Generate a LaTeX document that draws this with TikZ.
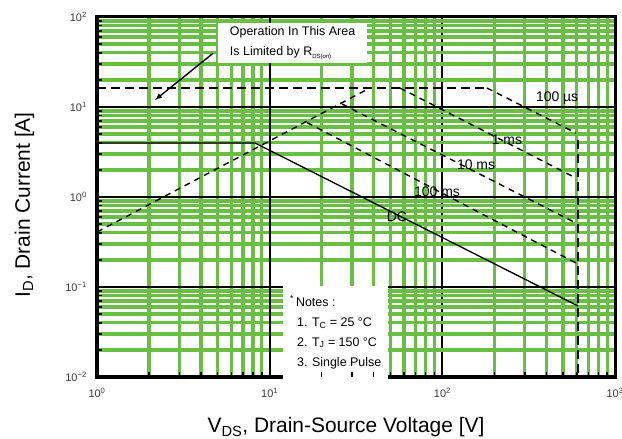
\documentclass[tikz,border=0pt]{standalone}
\usepackage{fontspec}
\setmainfont{Liberation Sans}
\usetikzlibrary{arrows}
\definecolor{gridgreen}{RGB}{106, 189, 69}
\definecolor{labelgray}{RGB}{60, 60, 60}

\begin{document}
\begin{tikzpicture}[x=172.7bp, y=90bp,
    minorgrid/.style={gridgreen, line width=3.3bp},
    decadegrid/.style={black, line width=2bp},
    frameline/.style={black, line width=3bp},
    frametick/.style={black, line width=1.5bp},
    pulseline/.style={black, line width=1.4bp, dash pattern=on 6bp off 5bp},
    limitline/.style={black, line width=2.6bp, dash pattern=on 9bp off 5bp},
    dcline/.style={black, line width=1.3bp},
    whitebox/.style={fill=white, inner sep=0pt, align=left},
    notetext/.style={font=\fontsize{12.5}{20}\selectfont},
    curvelabel/.style={font=\fontsize{14}{16}\selectfont, inner sep=0pt},
    ticklabel/.style={font=\fontsize{11}{13}\selectfont, text=labelgray, inner sep=1bp},
    axislabel/.style={font=\fontsize{21}{25}\selectfont, inner sep=0pt}]
    \useasboundingbox (-97bp,-62bp) rectangle (525bp,377bp);
    % minor grid, vertical
    \foreach \d in {0,1,2}
        \foreach \k in {2,...,9}
            \draw[minorgrid] ({\d+log10(\k)},0) -- ({\d+log10(\k)},4);
    \draw[decadegrid] (2,0) -- (2,4);
    % minor grid, horizontal
    \foreach \d in {0,1,2,3}
        \foreach \k in {2,...,9}
            \draw[minorgrid] (0,{\d+log10(\k)}) -- (3,{\d+log10(\k)});
    \foreach \d in {1,2,3}
        \draw[decadegrid] (0,\d) -- (3,\d);
    \draw[decadegrid] (1,0) -- (1,4);
    \draw[frameline] (0,0) rectangle (3,4);

    % boxes
    \node[whitebox, notetext, minimum width=149bp, minimum height=40bp, anchor=north west] (limitbox) at (0.700,3.933)
        {Operation In This Area\\Is Limited by R\raisebox{-3bp}{\fontsize{6}{7}\selectfont DS(on)}};
    \node[whitebox, notetext, minimum width=105bp, minimum height=93bp, anchor=south west] (notesbox) at (1.077,-0.022)
        {\textsuperscript{*}\,Notes :\\
         \hspace*{7bp}1. T\textsubscript{C} = 25 °C\\
         \hspace*{7bp}2. T\textsubscript{J} = 150 °C\\
         \hspace*{7bp}3. Single Pulse};

    % ticks
    \foreach \d in {0,1,2,3}
        \foreach \k in {2,...,9}
            \draw[frametick] (0,{\d+log10(\k)}) -- ++(5bp,0);
    \foreach \d in {0,1,2}
        \foreach \k in {2,...,9}
            \draw[frametick] ({\d+log10(\k)},0) -- ++(0,5bp);

    % safe operating area
    \draw[pulseline] (0,1.611) -- (1.580,3.211);
    \draw[limitline] (0,3.211) -- (2.258,3.211);
    \draw[pulseline] (2.258,3.211) -- (2.773,2.711);
    \draw[pulseline] (1.754,3.211) -- (2.773,2.211);
    \draw[pulseline] (1.419,3.033) -- (2.773,1.711);
    \draw[pulseline] (1.216,2.827) -- (2.773,1.267);
    \draw[dcline] (0,2.6) -- (0.915,2.6) -- (2.785,0.789);
    \draw[limitline] (2.785,2.633) -- (2.785,0);

    \coordinate (limittip) at (0.336,3.078);
    \draw[-latex, line width=1.4bp] ([shift={(-5bp,10bp)}]limitbox.south west) -- (limittip);

    \node[curvelabel] (lab100us) at (2.664,3.100) {100 µs};
    \node[curvelabel] (lab1ms)   at (2.374,2.633) {1 ms};
    \node[curvelabel] (lab10ms)  at (2.195,2.356) {10 ms};
    \node[curvelabel] (lab100ms) at (1.969,2.056) {100 ms};
    \node[curvelabel] (labdc)    at (1.737,1.778) {DC};

    % axes
    \foreach \d in {0,1,2,3}
        \node[ticklabel, anchor=north, yshift=-10bp] (xtick\d) at (\d,0) {10\textsuperscript{\d}};
    \foreach \d/\lab in {0/−2,1/−1,2/0,3/1,4/2}
        \node[ticklabel, anchor=east, xshift=-9bp] (ytick\d) at (0,\d) {10\textsuperscript{\lab}};
    \node[axislabel, anchor=base] (xlabel) at (1.442,-0.622) {V\textsubscript{DS}, Drain-Source Voltage [V]};
    \node[axislabel, anchor=base, rotate=90] (ylabel) at (-0.388,1.911) {I\textsubscript{D}, Drain Current [A]};
\end{tikzpicture}
\end{document}
